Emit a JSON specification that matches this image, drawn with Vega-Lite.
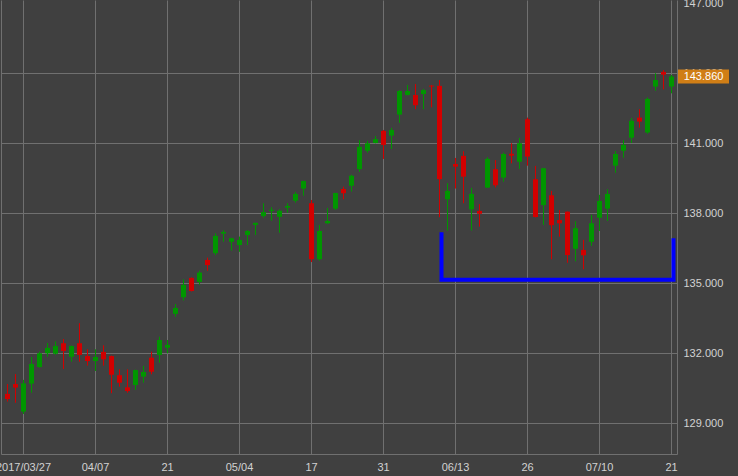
{
  "$schema": "https://vega.github.io/schema/vega-lite/v6.json",
  "autosize": {"type": "none"},
  "padding": {"left": 1, "top": 0, "right": 61, "bottom": 22},
  "width": 676,
  "height": 454,
  "background": "#404040",
  "config": {
    "view": {"stroke": null},
    "axis": {"labelFont": "Liberation Sans", "labelFontSize": 11, "labelColor": "#d2d2d2", "gridColor": "#707070", "gridOpacity": 1, "domainColor": "#707070", "title": null}
  },
  "datasets": {
    "candles": [
      {"d": "2017/03/23", "o": 130.26, "h": 130.68, "l": 129.93, "c": 130.04},
      {"d": "2017/03/24", "o": 130.68, "h": 131.11, "l": 129.88, "c": 130.53},
      {"d": "2017/03/27", "o": 129.50, "h": 130.86, "l": 129.40, "c": 130.71},
      {"d": "2017/03/28", "o": 130.70, "h": 131.84, "l": 130.31, "c": 131.54},
      {"d": "2017/03/29", "o": 131.41, "h": 132.07, "l": 131.38, "c": 132.00},
      {"d": "2017/03/30", "o": 132.00, "h": 132.44, "l": 131.85, "c": 132.23},
      {"d": "2017/03/31", "o": 131.98, "h": 132.51, "l": 131.94, "c": 132.31},
      {"d": "2017/04/03", "o": 132.43, "h": 132.61, "l": 131.33, "c": 132.10},
      {"d": "2017/04/04", "o": 131.85, "h": 132.33, "l": 131.64, "c": 132.31},
      {"d": "2017/04/05", "o": 132.43, "h": 133.29, "l": 131.64, "c": 131.93},
      {"d": "2017/04/06", "o": 131.88, "h": 132.17, "l": 131.47, "c": 131.67},
      {"d": "2017/04/07", "o": 131.67, "h": 132.17, "l": 131.24, "c": 131.84},
      {"d": "2017/04/10", "o": 132.06, "h": 132.34, "l": 131.47, "c": 131.74},
      {"d": "2017/04/11", "o": 131.88, "h": 131.90, "l": 130.29, "c": 131.08},
      {"d": "2017/04/12", "o": 131.06, "h": 131.31, "l": 130.57, "c": 130.74},
      {"d": "2017/04/13", "o": 130.54, "h": 131.31, "l": 130.31, "c": 130.38},
      {"d": "2017/04/17", "o": 130.64, "h": 131.30, "l": 130.43, "c": 131.28},
      {"d": "2017/04/18", "o": 131.00, "h": 131.46, "l": 130.74, "c": 131.20},
      {"d": "2017/04/19", "o": 131.81, "h": 132.07, "l": 131.10, "c": 131.21},
      {"d": "2017/04/20", "o": 131.93, "h": 132.71, "l": 131.60, "c": 132.57},
      {"d": "2017/04/21", "o": 132.24, "h": 132.57, "l": 132.00, "c": 132.36},
      {"d": "2017/04/24", "o": 133.69, "h": 134.11, "l": 133.57, "c": 133.94},
      {"d": "2017/04/25", "o": 134.40, "h": 135.17, "l": 134.26, "c": 134.93},
      {"d": "2017/04/26", "o": 135.23, "h": 135.25, "l": 134.65, "c": 134.67},
      {"d": "2017/04/27", "o": 135.06, "h": 135.54, "l": 134.94, "c": 135.46},
      {"d": "2017/04/28", "o": 136.00, "h": 136.10, "l": 135.54, "c": 135.78},
      {"d": "2017/05/01", "o": 136.29, "h": 137.14, "l": 136.21, "c": 137.03},
      {"d": "2017/05/02", "o": 137.13, "h": 137.28, "l": 136.78, "c": 137.20},
      {"d": "2017/05/03", "o": 136.78, "h": 136.95, "l": 136.40, "c": 136.93},
      {"d": "2017/05/04", "o": 136.64, "h": 137.00, "l": 136.35, "c": 136.86},
      {"d": "2017/05/05", "o": 137.07, "h": 137.28, "l": 136.64, "c": 137.24},
      {"d": "2017/05/08", "o": 137.50, "h": 137.60, "l": 137.07, "c": 137.59},
      {"d": "2017/05/09", "o": 137.88, "h": 138.43, "l": 137.81, "c": 138.05},
      {"d": "2017/05/10", "o": 138.10, "h": 138.26, "l": 137.68, "c": 138.15},
      {"d": "2017/05/11", "o": 137.85, "h": 138.17, "l": 137.17, "c": 138.11},
      {"d": "2017/05/12", "o": 138.24, "h": 138.43, "l": 138.03, "c": 138.31},
      {"d": "2017/05/15", "o": 138.54, "h": 138.91, "l": 138.46, "c": 138.83},
      {"d": "2017/05/16", "o": 139.06, "h": 139.40, "l": 138.75, "c": 139.38},
      {"d": "2017/05/17", "o": 138.43, "h": 138.57, "l": 135.91, "c": 136.03},
      {"d": "2017/05/18", "o": 136.03, "h": 137.50, "l": 135.97, "c": 137.24},
      {"d": "2017/05/19", "o": 137.57, "h": 138.23, "l": 137.55, "c": 137.67},
      {"d": "2017/05/22", "o": 138.20, "h": 138.88, "l": 138.14, "c": 138.87},
      {"d": "2017/05/23", "o": 139.04, "h": 139.14, "l": 138.60, "c": 138.86},
      {"d": "2017/05/24", "o": 139.18, "h": 139.65, "l": 138.93, "c": 139.61},
      {"d": "2017/05/25", "o": 139.89, "h": 141.14, "l": 139.78, "c": 140.85},
      {"d": "2017/05/26", "o": 140.68, "h": 141.11, "l": 140.60, "c": 141.00},
      {"d": "2017/05/30", "o": 141.01, "h": 141.31, "l": 141.00, "c": 141.18},
      {"d": "2017/05/31", "o": 141.53, "h": 141.57, "l": 140.33, "c": 140.93},
      {"d": "2017/06/01", "o": 141.33, "h": 141.66, "l": 140.76, "c": 141.57},
      {"d": "2017/06/02", "o": 142.23, "h": 143.28, "l": 141.88, "c": 143.24},
      {"d": "2017/06/05", "o": 143.07, "h": 143.50, "l": 143.05, "c": 143.24},
      {"d": "2017/06/06", "o": 143.07, "h": 143.54, "l": 142.46, "c": 142.63},
      {"d": "2017/06/07", "o": 143.11, "h": 143.33, "l": 142.46, "c": 143.28},
      {"d": "2017/06/08", "o": 143.47, "h": 143.50, "l": 142.54, "c": 143.43},
      {"d": "2017/06/09", "o": 143.46, "h": 143.71, "l": 137.83, "c": 139.46},
      {"d": "2017/06/12", "o": 138.60, "h": 139.29, "l": 137.26, "c": 138.96},
      {"d": "2017/06/13", "o": 140.11, "h": 140.37, "l": 139.06, "c": 140.00},
      {"d": "2017/06/14", "o": 140.46, "h": 140.66, "l": 138.43, "c": 139.57},
      {"d": "2017/06/15", "o": 138.17, "h": 139.09, "l": 137.26, "c": 138.83},
      {"d": "2017/06/16", "o": 138.10, "h": 138.39, "l": 137.43, "c": 137.98},
      {"d": "2017/06/19", "o": 139.10, "h": 140.40, "l": 139.09, "c": 140.33},
      {"d": "2017/06/20", "o": 139.89, "h": 140.28, "l": 139.11, "c": 139.20},
      {"d": "2017/06/21", "o": 139.53, "h": 140.60, "l": 139.35, "c": 140.54},
      {"d": "2017/06/22", "o": 140.55, "h": 141.00, "l": 140.14, "c": 140.47},
      {"d": "2017/06/23", "o": 140.21, "h": 141.23, "l": 139.90, "c": 141.00},
      {"d": "2017/06/26", "o": 142.03, "h": 142.10, "l": 140.04, "c": 140.43},
      {"d": "2017/06/27", "o": 139.46, "h": 140.03, "l": 137.82, "c": 137.84},
      {"d": "2017/06/28", "o": 138.35, "h": 139.95, "l": 137.50, "c": 139.93},
      {"d": "2017/06/29", "o": 138.77, "h": 138.96, "l": 136.03, "c": 137.49},
      {"d": "2017/06/30", "o": 137.71, "h": 138.14, "l": 137.00, "c": 137.57},
      {"d": "2017/07/03", "o": 138.07, "h": 138.08, "l": 135.88, "c": 136.21},
      {"d": "2017/07/05", "o": 136.48, "h": 137.66, "l": 135.94, "c": 137.36},
      {"d": "2017/07/06", "o": 136.43, "h": 136.86, "l": 135.60, "c": 136.20},
      {"d": "2017/07/07", "o": 136.78, "h": 137.93, "l": 136.60, "c": 137.57},
      {"d": "2017/07/10", "o": 137.81, "h": 138.79, "l": 137.24, "c": 138.53},
      {"d": "2017/07/11", "o": 138.20, "h": 139.03, "l": 137.67, "c": 138.83},
      {"d": "2017/07/12", "o": 140.04, "h": 140.67, "l": 139.74, "c": 140.54},
      {"d": "2017/07/13", "o": 140.68, "h": 141.14, "l": 140.38, "c": 140.93},
      {"d": "2017/07/14", "o": 141.24, "h": 142.08, "l": 141.01, "c": 141.96},
      {"d": "2017/07/17", "o": 142.10, "h": 142.46, "l": 141.67, "c": 141.93},
      {"d": "2017/07/18", "o": 141.46, "h": 142.96, "l": 141.41, "c": 142.90},
      {"d": "2017/07/19", "o": 143.43, "h": 144.00, "l": 143.25, "c": 143.71},
      {"d": "2017/07/20", "o": 144.06, "h": 144.14, "l": 143.31, "c": 143.94},
      {"d": "2017/07/21", "o": 143.43, "h": 143.93, "l": 143.14, "c": 143.86}
    ],
    "bracket": [
      {"d": "2017/06/09", "v": 137.19, "k": 1},
      {"d": "2017/06/09", "v": 135.15, "k": 2},
      {"d": "2017/07/21", "v": 135.15, "k": 3},
      {"d": "2017/07/21", "v": 136.93, "k": 4}
    ]
  },
  "layer": [
    {
      "data": {"name": "candles"},
      "encoding": {
        "x": {
          "field": "d", "type": "ordinal",
          "scale": {"paddingInner": 0, "paddingOuter": 0.25, "align": 0.625},
          "axis": {
            "values": ["2017/03/27", "2017/04/07", "2017/04/21", "2017/05/04", "2017/05/17", "2017/05/31", "2017/06/13", "2017/06/26", "2017/07/10", "2017/07/21"],
            "labelExpr": "datum.value == '2017/03/27' ? datum.value : (indexof(['2017/04/07','2017/05/04','2017/06/13','2017/07/10'], datum.value) >= 0 ? slice(datum.value, 5) : slice(datum.value, 8))",
            "labelAngle": 0, "ticks": false, "grid": true, "domain": true, "labelPadding": 7, "labelOverlap": false, "title": null
          }
        },
        "color": {
          "condition": {"test": "datum.c >= datum.o", "value": "#009600"},
          "value": "#d20000"
        }
      },
      "layer": [
        {
          "mark": {"type": "rule", "strokeWidth": 1},
          "encoding": {
            "y": {
              "field": "l", "type": "quantitative",
              "scale": {"domain": [127.684, 147.14], "nice": false, "zero": false},
              "axis": {
                "orient": "right",
                "values": [129, 132, 135, 138, 141, 144, 147],
                "format": ".3f", "ticks": false, "labelPadding": 6, "domain": true, "title": null,
                "gridColor": {"condition": {"test": "datum.value >= 147", "value": "transparent"}, "value": "#707070"}
              }
            },
            "y2": {"field": "h"}
          }
        },
        {
          "mark": {"type": "bar", "width": 5},
          "encoding": {
            "y": {"field": "o", "type": "quantitative"},
            "y2": {"field": "c"}
          }
        }
      ]
    },
    {
      "data": {"name": "bracket"},
      "mark": {"type": "line", "color": "#0000ff", "strokeWidth": 4, "strokeJoin": "miter", "xOffset": 2},
      "encoding": {
        "x": {"field": "d", "type": "ordinal"},
        "y": {
          "field": "v", "type": "quantitative",
          "axis": {"orient": "left", "labels": false, "ticks": false, "grid": false, "domain": true, "title": null}
        },
        "order": {"field": "k"}
      }
    },
    {
      "data": {"name": "candles"},
      "transform": [{"filter": "datum.d == '2017/07/21'"}],
      "mark": {"type": "point", "filled": true, "opacity": 1, "shape": "M-1,-0.275L1,-0.275L1,0.275L-1,0.275Z", "size": 2601, "color": "#d07e16", "xOffset": 32},
      "encoding": {
        "x": {"field": "d", "type": "ordinal"},
        "y": {"field": "c", "type": "quantitative", "axis": null}
      }
    },
    {
      "data": {"name": "candles"},
      "transform": [{"filter": "datum.d == '2017/07/21'"}],
      "mark": {"type": "text", "color": "#ffffff", "font": "Liberation Sans", "fontSize": 11, "align": "center", "baseline": "middle", "xOffset": 32},
      "encoding": {
        "x": {"field": "d", "type": "ordinal"},
        "y": {"field": "c", "type": "quantitative", "axis": null},
        "text": {"field": "c", "type": "quantitative", "format": ".3f"}
      }
    }
  ],
  "resolve": {"axis": {"y": "independent"}}
}
